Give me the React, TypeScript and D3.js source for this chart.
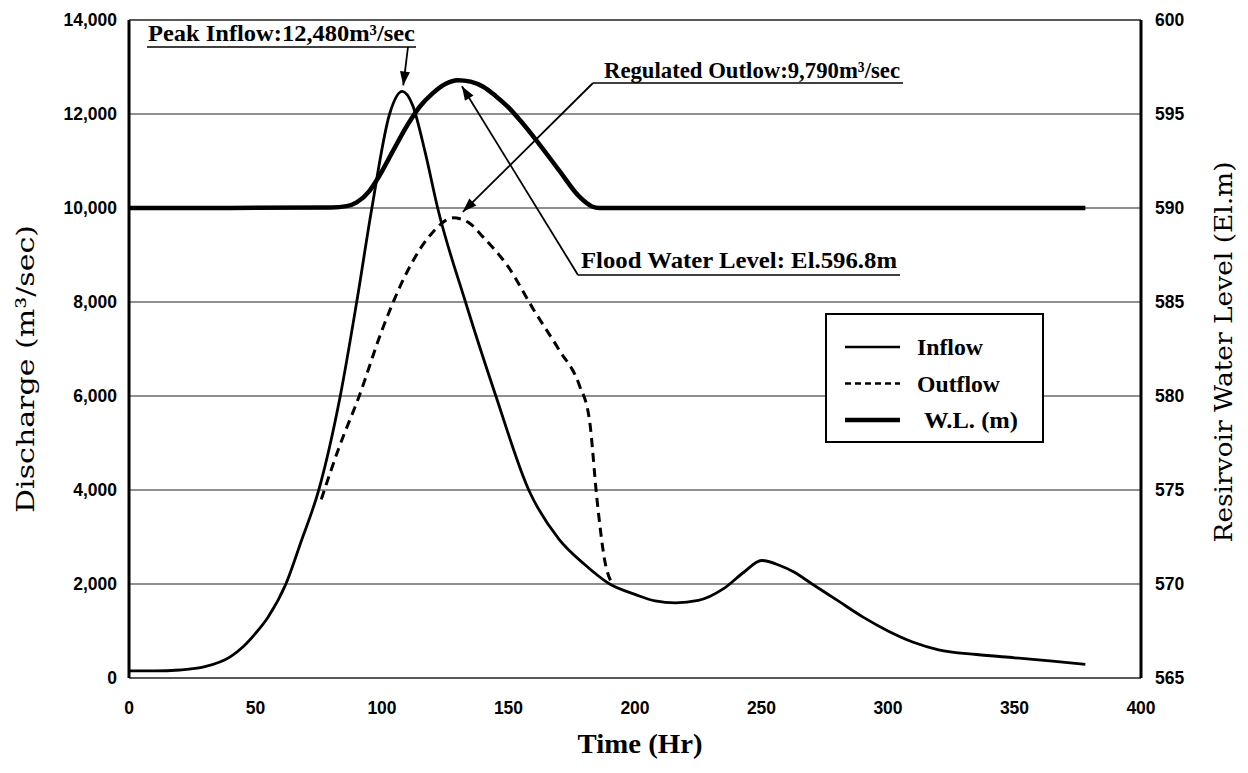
import * as d3 from "d3";
import React from "react";

// hours
const inflowT = [0, 10, 20, 30, 40, 45, 50, 55, 62, 68, 75, 83.5, 90, 96, 103, 108, 112, 117, 122, 133, 145, 158, 170, 180, 190, 200, 208, 216, 225, 235, 243, 250, 257, 263, 270, 280, 290, 300, 310, 320, 335, 350, 365, 378];
const inflowQ = [150, 150, 170, 240, 450, 660, 950, 1300, 2000, 2900, 4000, 6000, 8000, 10000, 12000, 12480, 12200, 11200, 10000, 8000, 6000, 4000, 2950, 2420, 2000, 1780, 1640, 1600, 1650, 1900, 2250, 2500, 2400, 2250, 2000, 1650, 1300, 1000, 760, 600, 500, 430, 360, 290];

const outflowT = [76, 83, 91, 100, 110, 120, 128, 134, 140, 150, 160, 170, 178, 182, 185, 188, 191];
const outflowQ = [3800, 4900, 6000, 7400, 8650, 9480, 9790, 9700, 9380, 8740, 7830, 6980, 6230, 5490, 3790, 2510, 2000];

const levelT = [0, 40, 80, 86, 90, 95, 98, 105, 110, 115, 120, 125, 130, 135, 140, 145, 150, 155, 161, 170, 178, 183, 186, 250, 378];
const levelH = [590, 590, 590.03, 590.1, 590.3, 590.9, 591.5, 593.2, 594.4, 595.4, 596.1, 596.6, 596.8, 596.72, 596.45, 595.95, 595.35, 594.6, 593.6, 592.0, 590.6, 590.08, 590, 590, 590];

const xTicks = [0, 50, 100, 150, 200, 250, 300, 350, 400];
const qTicks = [0, 2000, 4000, 6000, 8000, 10000, 12000, 14000];
const hTicks = [565, 570, 575, 580, 585, 590, 595, 600];

const legendItems = [
  { label: "Inflow", dash: "none", width: 2.5, dx: 72, len: 66 },
  { label: "Outflow", dash: "6,4", width: 2.5, dx: 72, len: 83 },
  { label: "W.L. (m)", dash: "none", width: 4.5, dx: 79, len: 94 },
];

const serif = "'Liberation Serif', 'Times New Roman', serif";
const wideSerif = "'DejaVu Serif', serif";
const sans = "'Liberation Sans', Arial, sans-serif";

const left = 129;
const right = 1141;
const top = 20;
const bottom = 678;

const arrowHead = (x1: number, y1: number, x2: number, y2: number, size = 14, half = 5) => {
  const a = Math.atan2(y2 - y1, x2 - x1);
  const bx = x2 - size * Math.cos(a);
  const by = y2 - size * Math.sin(a);
  const px = -Math.sin(a) * half;
  const py = Math.cos(a) * half;
  return `M${x2},${y2}L${bx + px},${by + py}L${bx - px},${by - py}Z`;
};

export default function App() {
  const x = d3.scaleLinear().domain([0, 400]).range([left, right]);
  const yQ = d3.scaleLinear().domain([0, 14000]).range([bottom, top]);
  const yH = d3.scaleLinear().domain([565, 600]).range([bottom, top]);

  const inflowPath = d3
    .line<number>()
    .x((d) => x(d))
    .y((d, i) => yQ(inflowQ[i]))
    .curve(d3.curveMonotoneX)(inflowT);
  const outflowPath = d3
    .line<number>()
    .x((d) => x(d))
    .y((d, i) => yQ(outflowQ[i]))
    .curve(d3.curveMonotoneX)(outflowT);
  const levelPath = d3
    .line<number>()
    .x((d) => x(d))
    .y((d, i) => yH(levelH[i]))
    .curve(d3.curveMonotoneX)(levelT);

  // annotation anchors from the data
  const peakIdx = d3.maxIndex(inflowQ);
  const peakX = x(inflowT[peakIdx]);
  const peakY = yQ(inflowQ[peakIdx]);
  const outIdx = d3.maxIndex(outflowQ);
  const outX = x(outflowT[outIdx]);
  const outY = yQ(outflowQ[outIdx]);
  const lvIdx = d3.maxIndex(levelH);
  const lvX = x(levelT[lvIdx]);
  const lvY = yH(levelH[lvIdx]);

  const ann1 = { x: 147, y: 47, endX: 416, ax: 408 };
  const ann2 = { x: 593, y: 83, endX: 903 };
  const ann3 = { x: 578, y: 275, endX: 900 };

  return (
    <svg
      width={1248}
      height={773}
      style={{ position: "absolute", left: 0, top: 0, background: "#fff" }}
    >
      {/* grid lines */}
      {qTicks
        .filter((t) => t > 0 && t < 14000)
        .map((t) => (
          <line key={t} x1={left} x2={right} y1={yQ(t)} y2={yQ(t)} stroke="#6a6a6a" strokeWidth={1.4} />
        ))}

      {/* frame */}
      <line x1={left} x2={right} y1={top} y2={top} stroke="#222" strokeWidth={1.5} />
      <line x1={left} x2={right} y1={bottom} y2={bottom} stroke="#222" strokeWidth={1.5} />
      <line x1={left} x2={left} y1={top} y2={bottom} stroke="#000" strokeWidth={3} />
      <line x1={right} x2={right} y1={top} y2={bottom} stroke="#000" strokeWidth={3} />

      {/* left tick labels */}
      {qTicks.map((t) => (
        <text
          key={t}
          x={left - 12}
          y={yQ(t)}
          dy="0.35em"
          textAnchor="end"
          fontFamily={sans}
          fontWeight="bold"
          fontSize={17.5}
        >
          {d3.format(",")(t)}
        </text>
      ))}
      {/* right tick labels */}
      {hTicks.map((t) => (
        <text key={t} x={right + 14} y={yH(t)} dy="0.35em" fontFamily={sans} fontWeight="bold" fontSize={17.5}>
          {t}
        </text>
      ))}
      {/* x tick labels */}
      {xTicks.map((t) => (
        <text
          key={t}
          x={x(t)}
          y={bottom + 36}
          textAnchor="middle"
          fontFamily={sans}
          fontWeight="bold"
          fontSize={17.5}
        >
          {t}
        </text>
      ))}

      {/* series */}
      <path d={levelPath ?? ""} fill="none" stroke="#000" strokeWidth={4.5} strokeLinejoin="round" />
      <path d={inflowPath ?? ""} fill="none" stroke="#000" strokeWidth={2.8} />
      <path d={outflowPath ?? ""} fill="none" stroke="#000" strokeWidth={3} strokeDasharray="9,6" />

      {/* annotation: peak inflow */}
      <text x={148} y={41} fontFamily={serif} fontWeight="bold" fontSize={23} textLength={267} lengthAdjust="spacingAndGlyphs">
        Peak Inflow:12,480m³/sec
      </text>
      <line x1={ann1.x} x2={ann1.endX} y1={ann1.y} y2={ann1.y} stroke="#000" strokeWidth={1.5} />
      <line x1={ann1.ax} y1={ann1.y} x2={peakX + 1} y2={peakY - 6} stroke="#000" strokeWidth={1.8} />
      <path d={arrowHead(ann1.ax, ann1.y, peakX + 1, peakY - 6)} fill="#000" />

      {/* annotation: regulated outflow */}
      <text x={604} y={78} fontFamily={serif} fontWeight="bold" fontSize={23} textLength={296} lengthAdjust="spacingAndGlyphs">
        Regulated Outlow:9,790m³/sec
      </text>
      <line x1={ann2.x} x2={ann2.endX} y1={ann2.y} y2={ann2.y} stroke="#000" strokeWidth={1.5} />
      <line x1={ann2.x} y1={ann2.y} x2={outX + 10} y2={outY - 6} stroke="#000" strokeWidth={1.8} />
      <path d={arrowHead(ann2.x, ann2.y, outX + 10, outY - 6)} fill="#000" />

      {/* annotation: flood water level */}
      <text x={581} y={268} fontFamily={serif} fontWeight="bold" fontSize={23} textLength={316} lengthAdjust="spacingAndGlyphs">
        Flood Water Level: El.596.8m
      </text>
      <line x1={ann3.x} x2={ann3.endX} y1={ann3.y} y2={ann3.y} stroke="#000" strokeWidth={1.5} />
      <line x1={ann3.x} y1={ann3.y} x2={lvX + 4} y2={lvY + 6} stroke="#000" strokeWidth={1.8} />
      <path d={arrowHead(ann3.x, ann3.y, lvX + 4, lvY + 6)} fill="#000" />

      {/* legend */}
      <rect x={826} y={314} width={217} height={128} fill="#fff" stroke="#000" strokeWidth={2} />
      {legendItems.map((d, i) => (
        <g key={d.label} transform={`translate(845, ${347 + i * 36.5})`}>
          <line x1={0} x2={55} y1={0} y2={0} stroke="#000" strokeWidth={d.width} strokeDasharray={d.dash} />
          <text
            x={d.dx}
            y={0}
            dy="0.35em"
            fontFamily={serif}
            fontWeight="bold"
            fontSize={23}
            textLength={d.len}
            lengthAdjust="spacingAndGlyphs"
          >
            {d.label}
          </text>
        </g>
      ))}

      {/* axis titles */}
      <text
        transform={`translate(34, 369) rotate(-90)`}
        textAnchor="middle"
        fontFamily={wideSerif}
        fontSize={25}
        textLength={288}
        lengthAdjust="spacingAndGlyphs"
      >
        Discharge  (m³/sec)
      </text>
      <text
        transform={`translate(1232, 352) rotate(-90)`}
        textAnchor="middle"
        fontFamily={wideSerif}
        fontSize={25}
        textLength={381}
        lengthAdjust="spacingAndGlyphs"
      >
        Resirvoir Water Level (El.m)
      </text>
      <text x={640} y={753} textAnchor="middle" fontFamily={serif} fontWeight="bold" fontSize={28} textLength={125} lengthAdjust="spacingAndGlyphs">
        Time (Hr)
      </text>
    </svg>
  );
}
